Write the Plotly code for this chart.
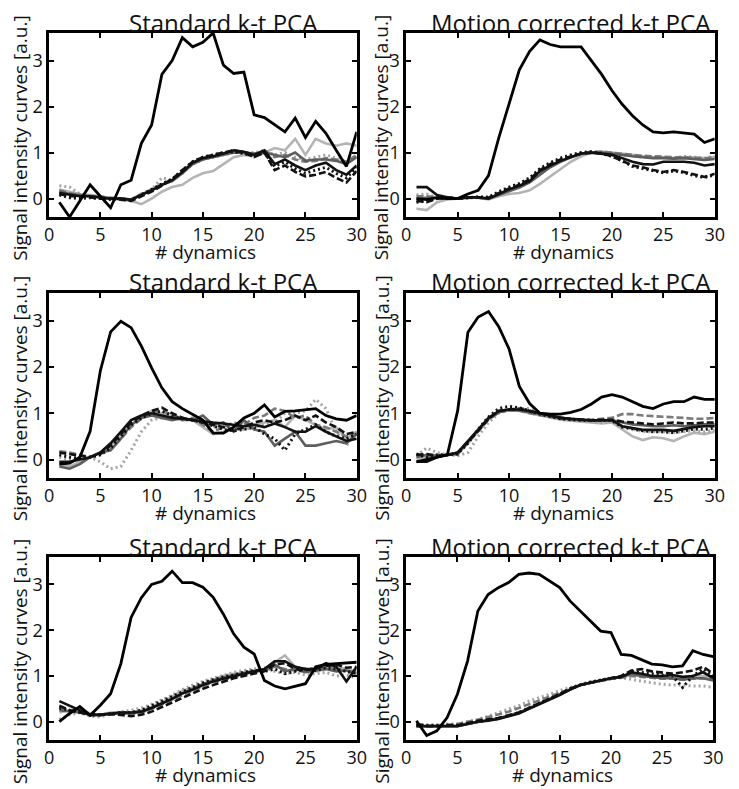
import plotly.graph_objects as go

# ---------------- data ----------------
DYN = list(range(1, 31))
X_TICKS = [0, 5, 10, 15, 20, 25, 30]
Y_TICKS = [0, 1, 2, 3]
TITLES = ["Standard k-t PCA", "Motion corrected k-t PCA",
          "Standard k-t PCA", "Motion corrected k-t PCA",
          "Standard k-t PCA", "Motion corrected k-t PCA"]
X_LABEL = "# dynamics"
Y_LABEL = "Signal intensity curves [a.u.]"

# Panel 1: Standard k-t PCA (top)
P1_AIF = [-0.08,-0.4,-0.05,0.3,0.05,-0.2,0.3,0.4,1.2,1.6,2.7,3.0,3.5,3.3,3.4,3.6,2.9,2.72,2.75,1.82,1.76,1.6,1.45,1.75,1.33,1.68,1.42,1.05,0.7,1.45]
P1_A = [0.12,0.08,0.05,0.05,0.02,0.0,0.0,-0.03,0.08,0.18,0.3,0.4,0.58,0.78,0.88,0.92,0.98,1.05,1.02,0.95,1.05,0.75,0.85,0.72,0.62,0.72,0.78,0.62,0.52,0.72]
P1_B = [0.1,0.05,0.05,0.02,0.0,0.0,-0.02,-0.05,0.05,0.15,0.28,0.42,0.62,0.8,0.9,0.95,1.0,1.05,1.0,0.9,1.0,0.62,0.72,0.58,0.48,0.52,0.58,0.45,0.35,0.6]
P1_C = [0.08,0.02,0.0,0.02,0.0,-0.02,0.0,-0.03,0.08,0.2,0.32,0.42,0.6,0.8,0.9,0.95,1.0,1.02,0.98,0.92,1.0,0.7,0.8,0.65,0.55,0.62,0.68,0.55,0.45,0.68]
P1_D = [0.15,0.1,0.08,0.05,0.03,0.0,0.0,-0.02,0.08,0.18,0.3,0.38,0.55,0.75,0.85,0.9,0.95,1.0,1.0,0.98,1.0,0.95,0.9,1.0,0.82,0.85,0.85,0.82,0.75,0.9]
P1_E = [0.18,0.12,0.08,0.06,0.04,0.02,0.0,-0.02,0.1,0.2,0.32,0.42,0.6,0.78,0.88,0.92,0.98,1.02,1.02,0.95,1.05,0.9,0.95,0.85,0.8,0.82,0.88,0.85,0.8,0.95]
P1_F = [0.2,0.15,0.1,0.08,0.05,0.0,-0.02,-0.05,-0.12,0.0,0.15,0.25,0.3,0.45,0.55,0.6,0.75,0.9,0.95,0.92,1.0,1.1,1.05,1.3,0.95,1.3,1.2,1.15,1.2,1.15]
P1_G = [0.28,0.25,0.1,0.05,0.05,0.0,0.0,-0.02,0.1,0.2,0.45,0.4,0.55,0.75,0.85,0.9,0.95,1.0,1.0,1.0,1.05,0.95,1.0,0.9,0.85,0.9,0.95,0.88,0.8,0.9]

# Panel 2: Motion corrected k-t PCA (top)
P2_AIF = [0.0,-0.02,0.02,0.0,0.0,0.1,0.18,0.5,1.32,2.08,2.8,3.2,3.45,3.35,3.3,3.3,3.3,3.0,2.7,2.35,2.05,1.8,1.6,1.45,1.43,1.45,1.42,1.4,1.22,1.3]
P2_A = [0.25,0.25,0.08,0.03,0.0,0.03,0.03,0.0,0.1,0.2,0.28,0.38,0.6,0.72,0.82,0.9,0.98,1.0,0.98,0.95,0.88,0.8,0.75,0.74,0.8,0.8,0.8,0.78,0.72,0.75]
P2_B = [-0.05,-0.08,0.0,0.02,0.0,0.02,0.03,0.02,0.12,0.22,0.3,0.42,0.62,0.75,0.85,0.92,0.98,1.0,0.98,0.92,0.82,0.72,0.68,0.62,0.58,0.62,0.58,0.52,0.47,0.54]
P2_C = [-0.08,-0.05,0.0,0.02,0.0,0.02,0.04,0.03,0.15,0.25,0.33,0.45,0.65,0.78,0.88,0.95,1.0,1.02,0.98,0.92,0.82,0.7,0.65,0.6,0.56,0.6,0.57,0.5,0.46,0.52]
P2_D = [0.0,0.02,0.02,0.0,0.0,0.02,0.02,0.0,0.08,0.16,0.24,0.35,0.52,0.68,0.8,0.9,0.97,1.0,1.0,0.98,0.95,0.92,0.9,0.88,0.88,0.87,0.88,0.86,0.84,0.86]
P2_E = [0.05,0.05,0.03,0.01,0.0,0.02,0.02,0.0,0.1,0.18,0.26,0.37,0.55,0.7,0.82,0.92,0.98,1.02,1.02,1.0,0.97,0.95,0.93,0.92,0.9,0.9,0.9,0.88,0.87,0.9]
P2_F = [-0.22,-0.25,-0.08,-0.02,0.0,0.02,0.02,-0.02,0.05,0.1,0.12,0.18,0.32,0.48,0.65,0.8,0.92,1.0,1.02,1.0,0.98,0.95,0.92,0.9,0.9,0.88,0.9,0.9,0.88,0.9]
P2_G = [0.08,0.1,0.02,0.0,0.0,0.02,0.02,0.0,0.1,0.18,0.25,0.36,0.55,0.7,0.82,0.9,0.97,1.0,1.0,0.98,0.95,0.92,0.9,0.9,0.9,0.88,0.92,0.9,0.88,0.92]

# Panel 3: Standard k-t PCA (middle)
P3_AIF = [-0.1,-0.08,0.05,0.61,1.92,2.76,2.99,2.85,2.45,1.98,1.55,1.25,1.1,0.97,0.85,0.57,0.57,0.7,0.9,1.0,1.18,0.92,1.04,1.05,1.07,1.1,0.95,0.88,0.85,0.95]
P3_A = [-0.05,-0.05,0.0,0.05,0.15,0.35,0.6,0.85,0.95,1.0,0.95,0.9,0.88,0.85,0.82,0.8,0.78,0.75,0.72,0.75,0.7,0.78,0.7,0.6,0.6,0.72,0.6,0.5,0.4,0.45]
P3_B = [0.15,0.12,0.08,0.05,0.12,0.3,0.55,0.8,0.95,1.05,1.12,1.0,0.9,0.85,0.8,0.75,0.7,0.62,0.7,0.8,0.85,0.8,0.85,0.95,0.85,0.95,0.8,0.7,0.55,0.6]
P3_C = [0.1,0.05,0.02,0.05,0.1,0.25,0.5,0.75,0.9,1.0,1.05,0.95,0.88,0.85,0.8,0.72,0.65,0.62,0.65,0.7,0.55,0.45,0.2,0.55,0.65,0.75,0.6,0.5,0.45,0.55]
P3_D = [-0.15,-0.2,-0.1,0.05,0.15,0.2,0.45,0.75,0.9,0.95,0.9,0.85,0.9,0.85,0.95,0.75,0.8,0.6,0.85,0.65,0.6,0.3,0.45,0.6,0.3,0.3,0.35,0.4,0.35,0.55]
P3_E = [0.18,0.15,0.1,0.05,0.12,0.22,0.45,0.7,0.88,1.0,1.05,0.95,0.85,0.9,0.75,0.6,0.7,0.8,0.75,0.9,0.95,1.1,1.05,0.9,0.95,0.75,0.7,0.6,0.5,0.55]
P3_F = [-0.1,-0.15,-0.05,0.05,0.15,0.3,0.55,0.85,0.95,1.05,1.0,0.9,0.85,0.85,0.7,0.55,0.6,0.7,0.65,0.75,0.8,0.85,0.7,0.95,0.85,0.75,0.65,0.7,0.45,0.6]
P3_G = [0.05,0.0,0.05,0.05,-0.05,-0.2,-0.15,0.2,0.6,0.85,0.9,0.95,0.9,0.85,0.8,0.7,0.75,0.7,0.65,0.7,0.75,0.8,1.0,1.0,1.05,1.3,1.1,0.6,0.3,0.6]

# Panel 4: Motion corrected k-t PCA (middle)
P4_AIF = [-0.05,0.0,0.05,0.1,1.05,2.75,3.08,3.2,2.87,2.39,1.58,1.21,1.0,0.98,0.98,1.02,1.08,1.2,1.35,1.4,1.35,1.25,1.15,1.1,1.2,1.25,1.25,1.35,1.3,1.3]
P4_A = [-0.05,-0.05,0.05,0.1,0.15,0.4,0.65,0.9,1.05,1.08,1.08,1.05,1.0,0.95,0.9,0.88,0.86,0.85,0.85,0.85,0.72,0.68,0.64,0.64,0.64,0.62,0.66,0.7,0.72,0.72]
P4_B = [0.1,0.12,0.08,0.1,0.15,0.38,0.62,0.88,1.05,1.08,1.1,1.05,1.0,0.95,0.9,0.88,0.86,0.85,0.86,0.86,0.82,0.8,0.78,0.76,0.78,0.8,0.78,0.78,0.8,0.8]
P4_C = [0.12,0.05,0.1,0.1,0.12,0.35,0.65,0.92,1.1,1.15,1.12,1.05,0.98,0.93,0.88,0.86,0.85,0.84,0.85,0.84,0.7,0.66,0.62,0.6,0.6,0.58,0.62,0.66,0.65,0.68]
P4_D = [0.05,0.1,0.08,0.1,0.12,0.38,0.62,0.88,1.02,1.08,1.06,1.02,0.98,0.95,0.9,0.87,0.85,0.84,0.84,0.85,0.8,0.76,0.74,0.72,0.72,0.74,0.72,0.74,0.76,0.76]
P4_E = [0.1,0.05,0.08,0.1,0.12,0.36,0.6,0.86,1.02,1.06,1.06,1.0,0.96,0.92,0.88,0.86,0.85,0.86,0.88,0.9,0.98,0.98,0.95,0.94,0.92,0.92,0.9,0.88,0.88,0.9]
P4_F = [0.0,0.05,0.08,0.1,0.12,0.35,0.62,0.88,1.02,1.06,1.05,1.0,0.96,0.9,0.86,0.84,0.82,0.8,0.78,0.8,0.65,0.5,0.42,0.48,0.46,0.4,0.5,0.58,0.55,0.6]
P4_G = [0.08,0.25,0.15,0.1,0.08,0.15,0.5,0.8,1.0,1.08,1.1,1.1,1.0,0.95,0.9,0.86,0.84,0.82,0.8,0.82,0.72,0.66,0.6,0.6,0.6,0.58,0.6,0.62,0.6,0.64]

# Panel 5: Standard k-t PCA (bottom)
P5_AIF = [0.0,0.18,0.33,0.14,0.36,0.61,1.27,2.28,2.71,3.0,3.07,3.29,3.04,3.04,2.94,2.72,2.35,1.92,1.63,1.48,0.9,0.78,0.72,0.78,0.83,1.2,1.25,1.27,1.28,1.3]
P5_A = [0.45,0.35,0.25,0.15,0.15,0.18,0.2,0.2,0.22,0.3,0.4,0.5,0.62,0.7,0.8,0.88,0.94,1.0,1.05,1.1,1.15,1.32,1.32,1.2,1.15,1.15,1.28,1.2,0.88,1.2]
P5_B = [0.35,0.25,0.2,0.15,0.15,0.16,0.15,0.12,0.15,0.22,0.32,0.42,0.52,0.62,0.72,0.8,0.88,0.95,1.0,1.05,1.1,1.25,1.28,1.15,1.12,1.18,1.22,1.25,1.18,1.2]
P5_C = [0.3,0.25,0.22,0.15,0.15,0.18,0.2,0.2,0.25,0.35,0.45,0.55,0.65,0.75,0.85,0.92,0.98,1.02,1.08,1.12,1.1,1.15,1.05,1.1,1.15,1.12,1.18,1.15,1.1,1.05]
P5_D = [0.25,0.22,0.2,0.15,0.15,0.18,0.18,0.18,0.22,0.3,0.4,0.5,0.62,0.72,0.82,0.9,0.96,1.02,1.06,1.1,1.12,1.25,1.1,1.15,1.08,1.12,1.15,1.1,1.12,1.05]
P5_E = [0.3,0.25,0.22,0.16,0.15,0.17,0.18,0.17,0.2,0.28,0.38,0.48,0.58,0.68,0.78,0.86,0.92,0.98,1.03,1.08,1.12,1.2,1.15,1.12,1.1,1.15,1.18,1.15,1.1,1.08]
P5_F = [0.2,0.25,0.28,0.18,0.15,0.2,0.2,0.2,0.25,0.32,0.42,0.55,0.68,0.75,0.82,0.92,1.0,1.05,1.08,1.12,1.15,1.3,1.45,1.2,1.15,1.1,1.15,1.2,1.15,1.1]
P5_G = [0.05,0.15,0.2,0.12,0.1,0.18,0.22,0.25,0.3,0.38,0.48,0.58,0.7,0.8,0.88,0.95,1.02,1.08,1.12,1.15,1.18,1.1,1.05,1.08,1.02,1.05,1.08,1.0,1.02,0.95]

# Panel 6: Motion corrected k-t PCA (bottom)
P6_AIF = [0.02,-0.3,-0.2,0.09,0.6,1.33,2.42,2.78,2.93,3.04,3.22,3.25,3.22,3.07,2.93,2.64,2.42,2.2,1.98,1.95,1.47,1.45,1.35,1.26,1.24,1.2,1.22,1.55,1.47,1.42]
P6_A = [-0.1,-0.1,-0.1,-0.1,-0.1,-0.05,0.0,0.02,0.06,0.12,0.18,0.28,0.38,0.48,0.58,0.7,0.8,0.85,0.9,0.95,0.98,1.08,1.05,1.0,1.0,1.02,0.98,1.0,1.08,0.95]
P6_B = [-0.05,-0.1,-0.1,-0.08,-0.08,-0.03,0.02,0.05,0.08,0.14,0.2,0.3,0.4,0.5,0.6,0.72,0.8,0.85,0.9,0.95,1.0,1.12,1.15,1.1,1.08,1.05,1.08,1.12,1.2,1.05]
P6_C = [-0.08,-0.08,-0.08,-0.08,-0.08,-0.04,0.0,0.03,0.07,0.13,0.2,0.3,0.4,0.5,0.6,0.72,0.8,0.86,0.9,0.95,0.98,1.1,1.08,1.05,1.02,1.0,0.75,1.0,1.15,1.0]
P6_D = [-0.1,-0.1,-0.1,-0.1,-0.1,-0.05,0.0,0.03,0.07,0.13,0.19,0.29,0.39,0.49,0.59,0.7,0.8,0.85,0.9,0.95,0.98,1.05,1.0,0.98,0.95,0.95,0.92,0.95,0.95,0.9]
P6_E = [-0.05,-0.08,-0.08,-0.06,-0.05,0.0,0.04,0.1,0.16,0.22,0.3,0.38,0.46,0.55,0.63,0.72,0.8,0.86,0.9,0.94,0.96,1.0,0.98,0.96,0.94,0.94,0.92,0.94,0.95,0.92]
P6_F = [-0.1,-0.08,-0.08,-0.08,-0.08,-0.04,0.0,0.04,0.08,0.14,0.2,0.3,0.4,0.5,0.6,0.7,0.8,0.85,0.9,0.95,0.98,1.02,1.0,0.98,0.97,0.96,0.95,0.98,1.0,0.95]
P6_G = [-0.05,-0.08,-0.08,-0.05,-0.05,0.0,0.05,0.12,0.2,0.28,0.35,0.45,0.52,0.6,0.68,0.75,0.82,0.88,0.92,0.95,0.96,0.92,0.88,0.85,0.82,0.8,0.8,0.78,0.78,0.75]

PANELS = [
    {"AIF": P1_AIF, "A": P1_A, "B": P1_B, "C": P1_C, "D": P1_D, "E": P1_E, "F": P1_F, "G": P1_G},
    {"AIF": P2_AIF, "A": P2_A, "B": P2_B, "C": P2_C, "D": P2_D, "E": P2_E, "F": P2_F, "G": P2_G},
    {"AIF": P3_AIF, "A": P3_A, "B": P3_B, "C": P3_C, "D": P3_D, "E": P3_E, "F": P3_F, "G": P3_G},
    {"AIF": P4_AIF, "A": P4_A, "B": P4_B, "C": P4_C, "D": P4_D, "E": P4_E, "F": P4_F, "G": P4_G},
    {"AIF": P5_AIF, "A": P5_A, "B": P5_B, "C": P5_C, "D": P5_D, "E": P5_E, "F": P5_F, "G": P5_G},
    {"AIF": P6_AIF, "A": P6_A, "B": P6_B, "C": P6_C, "D": P6_D, "E": P6_E, "F": P6_F, "G": P6_G},
]

# ---------------- styles ----------------
W, H = 739, 789
FONT = "Open Sans"
# draw order: light first, black last
STYLES = [
    ("F", "#b4b4b4", "solid", 2.6),
    ("G", "#a4a4a4", "2px,3px", 3),
    ("E", "#7a7a7a", "7px,3px", 2.6),
    ("D", "#5e5e5e", "solid", 2.6),
    ("C", "#111111", "2px,3px", 3),
    ("B", "#111111", "7px,3px", 2.6),
    ("A", "#111111", "solid", 2.6),
    ("AIF", "#000000", "solid", 2.8),
]

# panel boxes in pixels: (left, right, top, bottom)
BOXES = [
    (45, 359, 33, 217), (409.5, 724.5, 33, 217),
    (45, 359, 293, 478), (409.5, 724.5, 293, 478),
    (45, 359, 557, 740), (409.5, 723, 557, 740),
]


def fx(p):
    return p / W


def fy(p):
    return 1 - p / H


fig = go.Figure()
annotations = []
for k, (panel, box) in enumerate(zip(PANELS, BOXES)):
    n = "" if k == 0 else str(k + 1)
    left, right, top, bottom = box
    for key, color, dash, width in STYLES:
        fig.add_trace(go.Scatter(
            x=DYN, y=panel[key], mode="lines",
            line=dict(color=color, width=width, dash=dash),
            xaxis="x" + n, yaxis="y" + n, showlegend=False,
            hoverinfo="skip"))
    common = dict(showline=True, linewidth=2.5, linecolor="black", mirror="ticks",
                  ticks="inside", ticklen=5, tickwidth=2, tickcolor="black",
                  showgrid=False, zeroline=False,
                  tickfont=dict(family=FONT, size=18, color="#111111"))
    fig.layout["xaxis" + n] = dict(domain=[fx(left), fx(right)], anchor="y" + n,
                                   range=[0, 30], tickvals=X_TICKS, **common)
    fig.layout["yaxis" + n] = dict(domain=[fy(bottom), fy(top)], anchor="x" + n,
                                   range=[-0.4, 3.6], tickvals=Y_TICKS, **common)
    cx = (left + right) / 2
    cy = (top + bottom) / 2
    is_left = k % 2 == 0
    title_cx = 223 if is_left else 578
    annotations.append(dict(text=TITLES[k], x=fx(title_cx), y=fy(top - 11),
                            xref="paper", yref="paper", xanchor="center", yanchor="middle",
                            showarrow=False, font=dict(family=FONT, size=24, color="#111111")))
    annotations.append(dict(text=X_LABEL, x=fx(cx + 3), y=fy(bottom + 35),
                            xref="paper", yref="paper", xanchor="center", yanchor="middle",
                            showarrow=False, font=dict(family=FONT, size=19, color="#111111")))
    annotations.append(dict(text=Y_LABEL, x=fx(15 if is_left else 384), y=fy(cy + 13),
                            xref="paper", yref="paper", xanchor="center", yanchor="middle",
                            textangle=-90, showarrow=False,
                            font=dict(family=FONT, size=19, color="#111111")))

fig.update_layout(width=W, height=H, autosize=False,
                  margin=dict(l=0, r=0, t=0, b=0, pad=0),
                  paper_bgcolor="white", plot_bgcolor="white",
                  annotations=annotations)

fig.write_html("out.html", config={"displayModeBar": False},
               post_script="document.body.style.margin='0';document.body.style.overflow='hidden';")
